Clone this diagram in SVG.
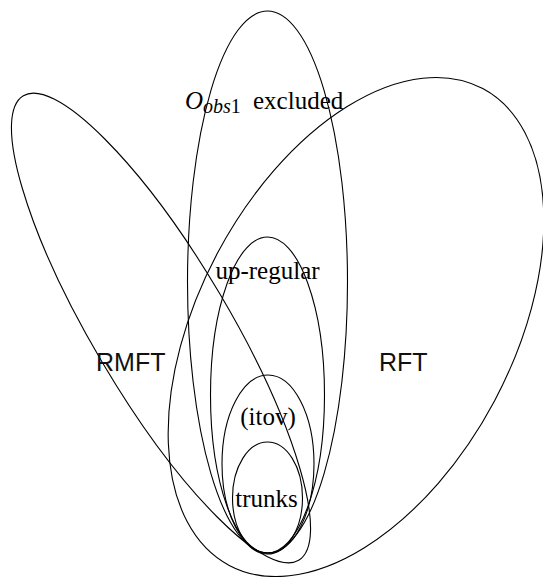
<svg xmlns="http://www.w3.org/2000/svg" width="543" height="577" viewBox="0 0 543 577">
<style>
  .set { fill: none; stroke: #000; stroke-width: 1.1; }
  .serif { font-family: "Liberation Serif", "Times New Roman", serif; font-size: 25px; fill: #000; }
  .sans { font-family: "Liberation Sans", Arial, sans-serif; font-size: 25px; fill: #111; }
  .it { font-style: italic; }
</style>
<rect width="543" height="577" fill="#fff"/>
<g id="rft">
  <ellipse class="set" cx="356" cy="327" rx="270" ry="157" transform="rotate(-62 356 327)"/>
  <text class="sans" x="379" y="371">RFT</text>
</g>
<g id="rmft">
  <ellipse class="set" cx="161" cy="328" rx="270" ry="68" transform="rotate(59.35 161 328)"/>
  <text class="sans" x="96" y="371">RMFT</text>
</g>
<g id="obs1-excluded">
  <ellipse class="set" cx="267.5" cy="282" rx="80" ry="271"/>
  <text class="serif" x="185" y="109"><tspan class="it">O</tspan><tspan font-size="20" dy="4" class="it">obs</tspan><tspan font-size="20">1</tspan></text>
  <text class="serif" x="253" y="109" font-size="26">excluded</text>
</g>
<g id="up-regular">
  <ellipse class="set" cx="267.5" cy="395" rx="57" ry="158"/>
  <text class="serif" x="267.5" y="279" text-anchor="middle">up-regular</text>
</g>
<g id="itov">
  <ellipse class="set" cx="268" cy="464" rx="46" ry="89"/>
  <text class="serif" x="268" y="425" text-anchor="middle">(itov)</text>
</g>
<g id="trunks">
  <ellipse class="set" cx="267.5" cy="498" rx="35" ry="56"/>
  <text class="serif" x="266.5" y="507" text-anchor="middle">trunks</text>
</g>
<g id="connectors"></g>
</svg>
